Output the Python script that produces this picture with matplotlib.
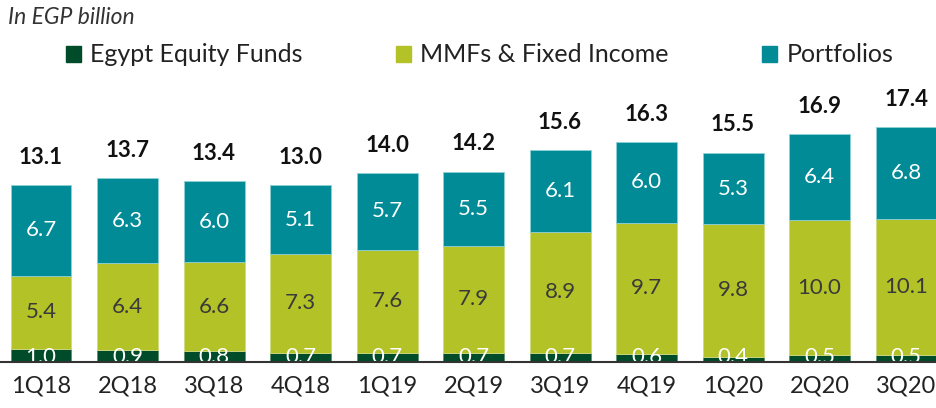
import matplotlib.pyplot as plt
import matplotlib.patches as mpatches
import numpy as np

plt.rcParams['font.family'] = ['Lato', 'DejaVu Sans']

quarters = ["1Q18", "2Q18", "3Q18", "4Q18", "1Q19", "2Q19", "3Q19", "4Q19", "1Q20", "2Q20", "3Q20"]
equity = [1.0, 0.9, 0.8, 0.7, 0.7, 0.7, 0.7, 0.6, 0.4, 0.5, 0.5]
mmf = [5.4, 6.4, 6.6, 7.3, 7.6, 7.9, 8.9, 9.7, 9.8, 10.0, 10.1]
portfolios = [6.7, 6.3, 6.0, 5.1, 5.7, 5.5, 6.1, 6.0, 5.3, 6.4, 6.8]
totals = [13.1, 13.7, 13.4, 13.0, 14.0, 14.2, 15.6, 16.3, 15.5, 16.9, 17.4]

c_eq = "#004B2A"
c_mmf = "#B2C227"
c_port = "#008B96"

fig = plt.figure(figsize=(9.37, 4.08), dpi=100)
ax = fig.add_axes([0, 46 / 408, 1, 262 / 408])

x = np.arange(len(quarters))
w = 0.705
eq = np.array(equity)
mm = np.array(mmf)
po = np.array(portfolios)

ax.bar(x, eq, w, color=c_eq, edgecolor="#5f8f6f", linewidth=0.6)
ax.bar(x, mm, w, bottom=eq, color=c_mmf, edgecolor="#d0dc80", linewidth=0.6)
ax.bar(x, po, w, bottom=eq + mm, color=c_port, edgecolor="#8fd0d5", linewidth=0.6)

for i in range(len(x)):
    ax.text(x[i], 0.35, f"{equity[i]:.1f}", ha="center", va="center",
            color="white", fontsize=16, clip_on=True)
    ax.text(x[i], eq[i] + mm[i] / 2, f"{mmf[i]:.1f}", ha="center", va="center",
            color="#3a3a3a", fontsize=16)
    ax.text(x[i], eq[i] + mm[i] + po[i] / 2, f"{portfolios[i]:.1f}", ha="center", va="center",
            color="white", fontsize=16)
    ax.annotate(f"{totals[i]:.1f}", (x[i], eq[i] + mm[i] + po[i]), xytext=(0, 20),
                textcoords="offset points", ha="center", va="center",
                fontsize=16, fontweight="bold", color="#111111", annotation_clip=False)

ax.set_xlim(-0.474, 10.358)
ax.set_ylim(0, 262 / 13.5)
ax.set_xticks(x)
ax.set_xticklabels(quarters, fontsize=17, color="#222222")
ax.tick_params(axis="x", length=0, pad=10)
ax.set_yticks([])
for s in ["top", "left", "right"]:
    ax.spines[s].set_visible(False)
ax.spines["bottom"].set_color("#333333")
ax.spines["bottom"].set_linewidth(1.5)
ax.spines["bottom"].set_zorder(5)

fig.text(8 / 937, 1 - 18 / 408, "In EGP billion", fontsize=16.5, fontstyle="italic",
         color="#333333", va="center", ha="left")

patches = [mpatches.Patch(color=c_eq, label="Egypt Equity Funds"),
           mpatches.Patch(color=c_mmf, label="MMFs & Fixed Income"),
           mpatches.Patch(color=c_port, label="Portfolios")]
fig.legend(handles=patches, loc="center left", bbox_to_anchor=(43 / 937, 1 - 55 / 408),
           ncol=3, frameon=False, fontsize=18, handlelength=0.6, handleheight=0.6,
           handletextpad=0.4, columnspacing=3.7, labelcolor="#222222")

fig.savefig("out.png", dpi=100)
